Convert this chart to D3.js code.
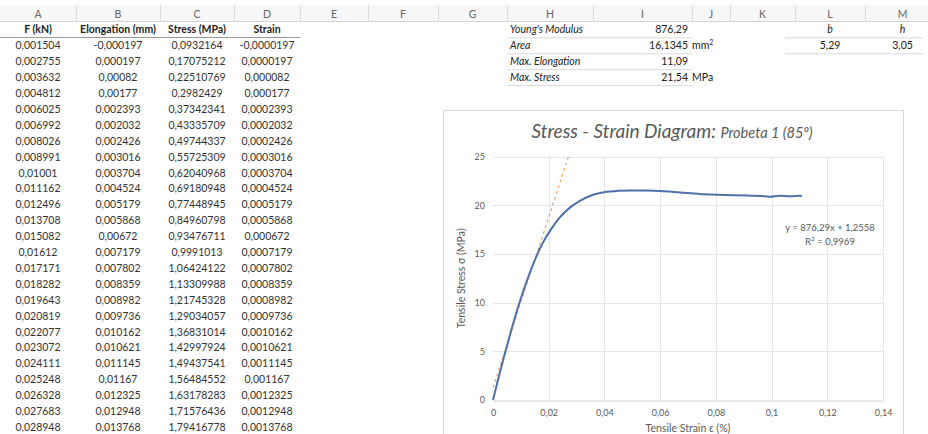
<!DOCTYPE html>
<html><head><meta charset="utf-8">
<script src="https://cdn.jsdelivr.net/npm/d3@7"></script>
<style>html,body{margin:0;padding:0;background:#fff;overflow:hidden}svg{display:block}</style>
</head><body><svg id="c" width="928" height="434"></svg>
<script>
// ---------- spreadsheet data ----------
const colLetters = ["A","B","C","D","E","F","G","H","I","J","K","L","M"];
const tableHeaders = ["F (kN)","Elongation (mm)","Stress (MPa)","Strain"];
const forceKN = [0.001504,0.002755,0.003632,0.004812,0.006025,0.006992,0.008026,0.008991,0.01001,0.011162,0.012496,0.013708,0.015082,0.01612,0.017171,0.018282,0.019643,0.020819,0.022077,0.023072,0.024111,0.025248,0.026328,0.027683,0.028948];
const elongationMM = [-0.000197,0.000197,0.00082,0.00177,0.002393,0.002032,0.002426,0.003016,0.003704,0.004524,0.005179,0.005868,0.00672,0.007179,0.007802,0.008359,0.008982,0.009736,0.010162,0.010621,0.011145,0.01167,0.012325,0.012948,0.013768];
const stressMPa = [0.0932164,0.17075212,0.22510769,0.2982429,0.37342341,0.43335709,0.49744337,0.55725309,0.62040968,0.69180948,0.77448945,0.84960798,0.93476711,0.9991013,1.06424122,1.13309988,1.21745328,1.29034057,1.36831014,1.42997924,1.49437541,1.56484552,1.63178283,1.71576436,1.79416778];
const strainCol = [-0.0000197,0.0000197,0.000082,0.000177,0.0002393,0.0002032,0.0002426,0.0003016,0.0003704,0.0004524,0.0005179,0.0005868,0.000672,0.0007179,0.0007802,0.0008359,0.0008982,0.0009736,0.0010162,0.0010621,0.0011145,0.001167,0.0012325,0.0012948,0.0013768];
const summaryLabels = ["Young's Modulus","Area","Max. Elongation","Max. Stress"];
const summaryValues = ["876,29","16,1345","11,09","21,54"];
const summaryUnits = ["","mm","","MPa"];
const dimLabels = ["b","h"];
const dimValues = ["5,29","3,05"];

// ---------- chart data ----------
const curveStrain = [0,0.002,0.004,0.0065,0.0094,0.013,0.0163,0.019,0.021,0.024,0.0276,0.0312,0.0348,0.038,0.0408,0.045,0.0492,0.0552,0.06,0.0672,0.0743,0.08,0.0865,0.0923,0.096,0.0994,0.103,0.1065,0.1102,0.1109];
const curveStress = [0,2.3,4.5,7.1,9.9,12.9,15.2,16.7,17.6,18.75,19.75,20.45,20.95,21.22,21.38,21.48,21.52,21.5,21.45,21.3,21.15,21.08,21.02,20.98,20.95,20.88,20.98,20.92,20.97,20.95];
const trendSlope = [876.29];
const trendIntercept = [1.2558];
const xTicks = [0,0.02,0.04,0.06,0.08,0.1,0.12,0.14];
const yTicks = [0,5,10,15,20,25];

const fmt = v => String(v).replace(".", ",");
const svg = d3.select("#c");
const FONT = "Lato, 'Open Sans', sans-serif";

// ---------- spreadsheet grid ----------
const colEdges = [0,76,160,234,300,368,438,507,593,692,730,795,865,940];
const rowY = r => 13.5 + 15.9 * r; // row center
const sheet = svg.append("g").attr("font-family", FONT);

sheet.append("rect").attr("x",0).attr("y",5).attr("width",928).attr("height",16).attr("fill","#f7f7f7");
sheet.append("line").attr("x1",0).attr("x2",928).attr("y1",21.5).attr("y2",21.5).attr("stroke","#d4d4d4");
colLetters.forEach((l,i)=>{
  const x0 = colEdges[i], x1 = colEdges[i+1];
  sheet.append("line").attr("x1",x1+0.5).attr("x2",x1+0.5).attr("y1",5).attr("y2",21).attr("stroke","#dcdcdc");
  sheet.append("text").attr("x",(x0+x1)/2).attr("y",rowY(0)+4).attr("text-anchor","middle")
    .attr("font-size",10.5).attr("fill","#666").text(l);
});

tableHeaders.forEach((h,i)=>{
  sheet.append("text").attr("x",(colEdges[i]+colEdges[i+1])/2).attr("y",rowY(1)+4).attr("text-anchor","middle")
    .attr("font-size",10.5).attr("font-weight","bold").attr("fill","#222").text(h);
});
sheet.append("line").attr("x1",0).attr("x2",300).attr("y1",37.5).attr("y2",37.5).attr("stroke","#9a9a9a");

const cols = [forceKN, elongationMM, stressMPa, strainCol];
cols.forEach((arr,ci)=>{
  sheet.selectAll(null).data(arr).enter().append("text")
    .attr("x",(colEdges[ci]+colEdges[ci+1])/2)
    .attr("y",(d,i)=>rowY(i+2)+4)
    .attr("text-anchor","middle").attr("font-size",10.5).attr("fill","#333")
    .text(d=>fmt(d));
});

summaryLabels.forEach((lab,i)=>{
  const y = rowY(i+1);
  sheet.append("text").attr("x",510).attr("y",y+4).attr("font-size",10.5).attr("font-style","italic").attr("fill","#222").text(lab);
  sheet.append("text").attr("x",688).attr("y",y+4).attr("text-anchor","end").attr("font-size",10.5).attr("fill","#222").text(summaryValues[i]);
  if (summaryUnits[i]) {
    const t = sheet.append("text").attr("x",692).attr("y",y+4).attr("font-size",10.5).attr("fill","#222").text(summaryUnits[i]);
    if (summaryUnits[i]==="mm") t.append("tspan").attr("dy",-4).attr("font-size",7).text("2");
  }
  sheet.append("line").attr("x1",507).attr("x2",692).attr("y1",y+8.5).attr("y2",y+8.5).attr("stroke","#d9d9d9");
});
dimLabels.forEach((lab,i)=>{
  const cx = (colEdges[11+i]+colEdges[12+i])/2;
  sheet.append("text").attr("x",cx).attr("y",rowY(1)+4).attr("text-anchor","middle").attr("font-size",10.5).attr("font-style","italic").attr("fill","#222").text(lab);
  sheet.append("text").attr("x",cx).attr("y",rowY(2)+4).attr("text-anchor","middle").attr("font-size",10.5).attr("fill","#222").text(dimValues[i]);
});
[1,2].forEach(r=>{
  sheet.append("line").attr("x1",785).attr("x2",923).attr("y1",rowY(r)+8.5).attr("y2",rowY(r)+8.5).attr("stroke","#d9d9d9");
});

// ---------- chart ----------
const chart = svg.append("g").attr("font-family", FONT);
chart.append("rect").attr("x",443.5).attr("y",110.5).attr("width",460).attr("height",340)
  .attr("fill","#fff").attr("stroke","#d9d9d9");

const x = d3.scaleLinear().domain([0,0.14]).range([493,883]);
const y = d3.scaleLinear().domain([0,25]).range([400,156.5]);

chart.append("g").selectAll("line").data(yTicks.filter(d=>d>0)).enter().append("line")
  .attr("x1",x(0)).attr("x2",x(0.14)).attr("y1",d=>Math.round(y(d))+0.5).attr("y2",d=>Math.round(y(d))+0.5)
  .attr("stroke","#e6e6e6");
chart.append("g").selectAll("line").data(xTicks.filter(d=>d>0)).enter().append("line")
  .attr("y1",y(0)).attr("y2",y(25)).attr("x1",d=>Math.round(x(d))+0.5).attr("x2",d=>Math.round(x(d))+0.5)
  .attr("stroke","#e6e6e6");

const xAxis = chart.append("g").attr("transform",`translate(0,${Math.round(y(0))+0.5})`)
  .call(d3.axisBottom(x).tickValues(xTicks).tickSize(0).tickPadding(9).tickFormat(fmt));
xAxis.select(".domain").attr("stroke","#d0d0d0");
xAxis.selectAll("text").attr("font-size",9).attr("fill","#595959").attr("font-family",FONT);

const yAxis = chart.append("g").attr("transform",`translate(${x(0)},0)`)
  .call(d3.axisLeft(y).tickValues(yTicks).tickSize(0).tickPadding(8).tickFormat(fmt));
yAxis.select(".domain").remove();
yAxis.selectAll("text").attr("font-size",9).attr("fill","#595959").attr("font-family",FONT);

chart.append("clipPath").attr("id","pa").append("rect").attr("x",x(0)).attr("y",y(25)).attr("width",x(0.14)-x(0)).attr("height",y(0)-y(25));

const tx = [0, curveStrain[curveStrain.length-1]];
chart.append("path").attr("clip-path","url(#pa)")
  .attr("d", d3.line().x(d=>x(d)).y(d=>y(trendSlope[0]*d+trendIntercept[0]))(tx))
  .attr("fill","none").attr("stroke","#e8a56e").attr("stroke-width",1.2).attr("stroke-dasharray","3,3");

const pts = curveStrain.map((s,i)=>[s,curveStress[i]]);
chart.append("path").attr("d", d3.line().x(d=>x(d[0])).y(d=>y(d[1])).curve(d3.curveMonotoneX)(pts))
  .attr("fill","none").attr("stroke","#4f70a8").attr("stroke-width",2);

const title = chart.append("text").attr("x",672).attr("y",138).attr("text-anchor","middle")
  .attr("font-style","italic").attr("fill","#595959").attr("font-size",19).text("Stress - Strain Diagram: ");
title.append("tspan").attr("font-size",14.5).text("Probeta 1 (85º)");

chart.append("text").attr("x",688).attr("y",432).attr("text-anchor","middle").attr("font-size",10.5).attr("fill","#595959").text("Tensile Strain ε (%)");
chart.append("text").attr("transform",`translate(465,${(y(0)+y(25))/2}) rotate(-90)`).attr("text-anchor","middle")
  .attr("font-size",10.5).attr("fill","#595959").text("Tensile Stress σ (MPa)");

chart.append("text").attr("x",830).attr("y",231).attr("text-anchor","middle").attr("font-size",9.5).attr("fill","#595959")
  .text(`y = ${fmt(trendSlope[0])}x + ${fmt(trendIntercept[0])}`);
const r2 = chart.append("text").attr("x",830).attr("y",245).attr("text-anchor","middle").attr("font-size",9.5).attr("fill","#595959").text("R");
r2.append("tspan").attr("dy",-4).attr("font-size",6.5).text("2");
r2.append("tspan").attr("dy",4).text(" = 0,9969");
</script></body></html>
